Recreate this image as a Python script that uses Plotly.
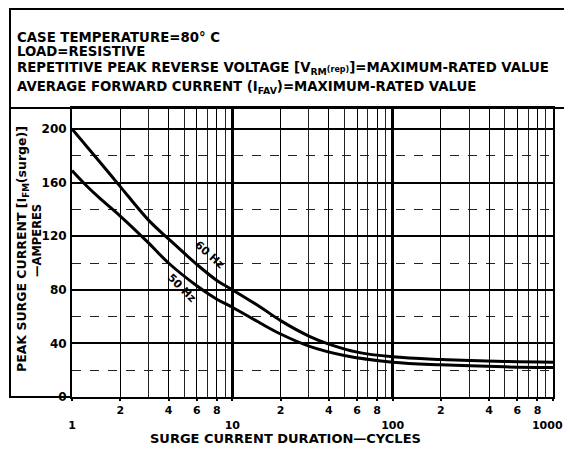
import plotly.graph_objects as go

# ---- data ----
cycles_60 = [1, 1.5, 2, 3, 4, 6, 8, 10, 15, 20, 30, 40, 60, 100, 200, 500, 1000]
amps_60 = [200, 175, 157, 132, 118, 99, 87, 80, 67, 57, 45.5, 39.5, 33.5, 30, 28, 26.5, 26]
cycles_50 = [1, 1.2, 1.5, 2, 3, 4, 6, 8, 10, 15, 20, 30, 50, 100, 200, 500, 1000]
amps_50 = [169, 159, 148, 135, 115, 100, 83, 73, 67, 55, 47, 38, 31, 26, 24, 22.5, 22]

x_tickvals = [1, 2, 4, 6, 8, 10, 20, 40, 60, 80, 100, 200, 400, 600, 800, 1000]
x_ticktext = ["<br>1", "2", "4", "6", "8", "<br>10", "2", "4", "6", "8",
              "<br>100", "2", "4", "6", "8", "<br>1000&nbsp;&nbsp;&nbsp;"]
x_minor = [3, 5, 7, 9, 30, 50, 70, 90, 300, 500, 700, 900]
y_tickvals = [0, 40, 80, 120, 160, 200]
y_minor = [20, 60, 100, 140, 180]

header_lines = [
    "CASE TEMPERATURE=80° C",
    "LOAD=RESISTIVE",
    "REPETITIVE PEAK REVERSE VOLTAGE [V<sub>RM</sub><span style='font-size:8px'>(rep)</span>]=MAXIMUM-RATED VALUE",
    "AVERAGE FORWARD CURRENT (I<sub>FAV</sub>)=MAXIMUM-RATED VALUE",
]

# ---- layout geometry (pixels); the page body adds an 8px offset ----
OFF = 8
PW, PH = 481, 289
W, H = 572 - OFF, 451 - OFF
L, T = 72 - OFF, 108 - OFF
R, B = W - L - PW, H - T - PH


def px(xp):
    return (xp - OFF - L) / PW


def py(yp):
    return (T + PH - (yp - OFF)) / PH


FONT = "DejaVu Sans"
fig = go.Figure()

line_style = dict(color="black", width=3, shape="spline", smoothing=1.0)
fig.add_trace(go.Scatter(x=cycles_60, y=amps_60, mode="lines", line=line_style,
                         showlegend=False, hoverinfo="skip"))
fig.add_trace(go.Scatter(x=cycles_50, y=amps_50, mode="lines", line=line_style,
                         showlegend=False, hoverinfo="skip"))
# invisible trace on overlay axis for heavy decade lines
fig.add_trace(go.Scatter(x=[1, 1000], y=[0, 0], xaxis="x2", mode="lines", line=dict(width=0),
                         showlegend=False, hoverinfo="skip"))

fig.update_layout(
    width=W, height=H,
    margin=dict(l=L, r=R, t=T, b=B, autoexpand=False),
    paper_bgcolor="white", plot_bgcolor="white",
    font=dict(family=FONT, color="black", size=12),
    xaxis=dict(type="log", range=[0, 3], tickvals=x_tickvals, ticktext=x_ticktext,
               tickangle=0, automargin=False, ticklabeloverflow="allow",
               showgrid=True, gridcolor="black", gridwidth=1.3,
               showline=True, linecolor="black", linewidth=2, mirror=True,
               ticks="outside", ticklen=2, tickcolor="black", tickwidth=2,
               tickfont=dict(size=11, family=FONT, weight="bold"),
               minor=dict(tickvals=x_minor, showgrid=True, gridcolor="#222", gridwidth=1.2),
               zeroline=False),
    xaxis2=dict(type="log", range=[0, 3], overlaying="x", tickvals=[10, 100],
                showgrid=True, gridcolor="black", gridwidth=2.5, showticklabels=False,
                showline=False, zeroline=False, automargin=False),
    yaxis=dict(range=[0, PH / 1.34], tickvals=y_tickvals, automargin=False,
               showgrid=True, gridcolor="black", gridwidth=1.5,
               showline=True, linecolor="black", linewidth=2, mirror=True,
               ticks="", tickfont=dict(size=12, family=FONT, weight="bold"), ticklabelstandoff=1,
               minor=dict(tickvals=y_minor, showgrid=True, gridcolor="#222", gridwidth=1.3, griddash="dash"),
               zeroline=False),
)

# frame lines around the chart
fig.add_shape(type="rect", xref="paper", yref="paper", x0=px(10), x1=px(565), y0=py(108), y1=py(9),
              line=dict(color="black", width=2))
fig.add_shape(type="line", xref="paper", yref="paper", x0=px(10), x1=px(10), y0=py(108), y1=py(398),
              line=dict(color="black", width=2))
fig.add_shape(type="line", xref="paper", yref="paper", x0=px(10), x1=px(72), y0=py(397), y1=py(397),
              line=dict(color="black", width=2))

# header text
for txt, yc in zip(header_lines, [37, 51, 68, 87]):
    fig.add_annotation(text="<b>" + txt + "</b>", xref="paper", yref="paper", x=px(15), y=py(yc),
                       xanchor="left", yanchor="middle", showarrow=False,
                       font=dict(size=13.3, family=FONT))

# axis titles
fig.add_annotation(text="<b>PEAK SURGE CURRENT [I<sub>FM</sub>(surge)]</b>", xref="paper", yref="paper",
                   x=px(22), y=py(249), textangle=-90, showarrow=False, xanchor="center", yanchor="middle",
                   font=dict(size=12.5, family=FONT))
fig.add_annotation(text="<b>—AMPERES</b>", xref="paper", yref="paper",
                   x=px(37), y=py(241), textangle=-90, showarrow=False, xanchor="center", yanchor="middle",
                   font=dict(size=11.5, family=FONT))
fig.add_annotation(text="<b>SURGE CURRENT DURATION—CYCLES</b>", xref="paper", yref="paper",
                   x=px(285), y=py(438), showarrow=False, xanchor="center", yanchor="middle",
                   font=dict(size=13, family=FONT))

# curve labels
fig.add_annotation(text="<b>60 Hz</b>", xref="x", yref="y", x=0.855, y=106, textangle=42,
                   showarrow=False, font=dict(size=11, family=FONT))
fig.add_annotation(text="<b>50 Hz</b>", xref="x", yref="y", x=0.686, y=80.8, textangle=45,
                   showarrow=False, font=dict(size=11, family=FONT))

fig.write_html("out.html")
